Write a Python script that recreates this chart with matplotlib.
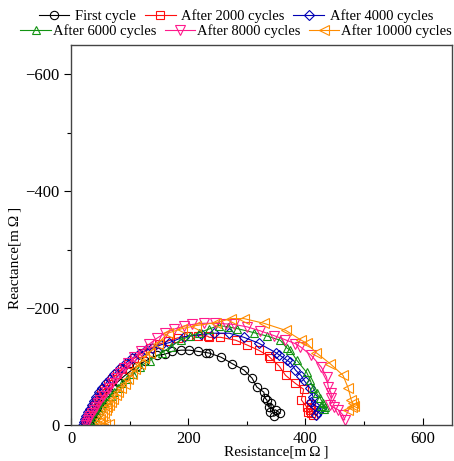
import numpy as np
import matplotlib
matplotlib.use("Agg")
import matplotlib.pyplot as plt
from matplotlib.ticker import MultipleLocator

plt.rcParams['font.family'] = ['Liberation Serif', 'DejaVu Serif']

# DATA: resistance / reactance [mOhm]
r_first = [28, 30, 32, 34, 36, 38, 41, 44, 48, 53, 58, 64, 71, 80, 90, 101, 113, 126,
           146, 160, 173, 188, 202, 216, 230, 236, 256, 275, 295, 309, 317, 329, 331,
           334, 337, 342, 340, 349, 357, 346]
x_first = [0, -4, -8, -12, -16, -20, -25, -30, -36, -43, -50, -57, -65, -74, -83, -92, -101, -109,
           -119, -121, -126, -128, -128, -126, -124, -123, -116, -105, -94, -80, -65, -56, -46,
           -43, -31, -37, -22, -26, -20, -15]

r_2000 = [24, 26, 28, 30, 33, 36, 39, 43, 47, 52, 57, 63, 70, 78, 87, 97, 108, 121,
          135, 150, 166, 182, 200, 217, 233, 236, 255, 281, 300, 320, 337, 340, 355, 366,
          383, 397, 393, 402, 410, 408, 405, 410, 413]
x_2000 = [0, -5, -10, -15, -21, -27, -33, -40, -47, -55, -62, -70, -78, -87, -96, -105, -114, -123,
          -131, -138, -144, -149, -152, -153, -152, -150, -150, -145, -137, -128, -118, -115, -101, -85,
          -71, -61, -43, -31, -36, -26, -22, -20, -17]

r_4000 = [20, 22, 24, 26, 29, 32, 35, 39, 43, 48, 53, 59, 66, 74, 83, 93, 104, 116,
          128, 139, 153, 168, 193, 222, 244, 270, 295, 320, 349, 355, 368, 374, 383, 393,
          397, 408, 413, 410, 416, 427, 422, 418]
x_4000 = [0, -5, -10, -16, -22, -28, -34, -41, -48, -56, -63, -71, -79, -88, -97, -106, -114, -122,
          -128, -131, -137, -141, -151, -155, -157, -157, -150, -140, -124, -120, -111, -107, -94, -84,
          -77, -63, -48, -39, -33, -29, -22, -17]

r_6000 = [33, 35, 38, 41, 44, 48, 52, 57, 62, 68, 74, 80, 87, 95, 105, 117, 134, 156,
          170, 188, 203, 219, 235, 252, 268, 283, 312, 335, 357, 368, 374, 385, 402, 408,
          413, 419, 425, 430, 434, 427, 432]
x_6000 = [0, -4, -9, -14, -19, -25, -31, -37, -43, -50, -57, -64, -71, -79, -88, -100, -110, -124,
          -134, -146, -152, -158, -164, -170, -168, -165, -158, -152, -145, -132, -128, -111, -90, -77,
          -63, -54, -46, -37, -31, -32, -28]

r_8000 = [25, 27, 29, 31, 33, 36, 39, 42, 46, 50, 54, 59, 64, 70, 76, 83, 90, 98,
          108, 120, 133, 146, 160, 176, 192, 207, 227, 245, 264, 278, 300, 323, 346, 365,
          383, 391, 410, 427, 436, 439, 444, 444, 442, 448, 456, 464, 467]
x_8000 = [0, -4, -8, -12, -16, -21, -26, -31, -37, -43, -49, -56, -63, -71, -80, -89, -97, -106,
          -116, -127, -138, -148, -157, -164, -169, -172, -174, -174, -173, -172, -168, -161, -153, -146,
          -139, -134, -119, -99, -82, -65, -54, -46, -34, -30, -26, -17, -9]

r_10000 = [64, 58, 50, 47, 50, 53, 56, 59, 62, 65, 68, 72, 76, 81, 86, 92, 98, 104,
           110, 117, 125, 134, 148, 165, 190, 213, 247, 273, 295, 329, 366, 393, 402, 418,
           442, 464, 473, 478, 481, 483, 480, 473]
x_10000 = [-1, -1, -2, -5, -10, -15, -20, -25, -30, -35, -40, -45, -51, -57, -63, -70, -78, -87,
           -96, -105, -115, -124, -139, -157, -165, -170, -175, -182, -182, -174, -162, -145, -140, -124,
           -105, -85, -63, -43, -37, -32, -30, -26]

labels = ['First cycle', 'After 2000 cycles', 'After 4000 cycles',
          'After 6000 cycles', 'After 8000 cycles', 'After 10000 cycles']
colors = ['black', '#ff1010', '#0000b4', '#129312', '#ff1a8c', '#ff8c00']
markers = ['o', 's', 'D', '^', 'v', '<']
sizes = [6, 6, 4.8, 6, 6.5, 6.5]

series = [(r_first, x_first), (r_2000, x_2000), (r_4000, x_4000),
          (r_6000, x_6000), (r_8000, x_8000), (r_10000, x_10000)]

fig = plt.figure(figsize=(4.54, 4.61), dpi=100)
ax = fig.add_axes([71 / 454, 36 / 461, 381 / 454, 380 / 461])

handles = []
for (r, x), lab, c, m, s in zip(series, labels, colors, markers, sizes):
    h, = ax.plot(r, x, color=c, marker=m, markersize=s, fillstyle='none',
                 markeredgewidth=0.8, linewidth=0.8, label=lab)
    handles.append(h)

ax.set_xlim(0, 650)
ax.set_ylim(0, -650)
ax.xaxis.set_major_locator(MultipleLocator(200))
ax.xaxis.set_minor_locator(MultipleLocator(100))
ax.yaxis.set_major_locator(MultipleLocator(200))
ax.yaxis.set_minor_locator(MultipleLocator(100))
ax.tick_params(axis='x', which='both', direction='in', labelsize=12, pad=4)
ax.tick_params(axis='y', which='both', direction='out', labelsize=12)
ax.tick_params(which='major', length=5, width=0.8)
ax.tick_params(which='minor', length=3, width=0.8)
for sp in ax.spines.values():
    sp.set_color('#444444')
    sp.set_linewidth(1.0)

ax.set_xlabel('Resistance[m\u2009Ω\u2009]', fontsize=11)
ax.set_ylabel('Reactance[m\u2009Ω\u2009]', fontsize=11)
ax.xaxis.set_label_coords(0.54, -0.055)
ax.yaxis.set_label_coords(-0.13, 0.44)

# legend as two centred rows
kw = dict(ncol=3, frameon=False, fontsize=10.5, handlelength=2.1,
          columnspacing=0.6, borderaxespad=0, borderpad=0)
fig.legend(handles[:3], labels[:3], loc='center', handletextpad=0.4,
           bbox_to_anchor=(0.52, 1 - 16 / 461), **kw)
fig.legend(handles[3:], labels[3:], loc='center', handletextpad=0.1,
           bbox_to_anchor=(0.52, 1 - 31 / 461), **kw)

fig.savefig('out.png', dpi=100)
